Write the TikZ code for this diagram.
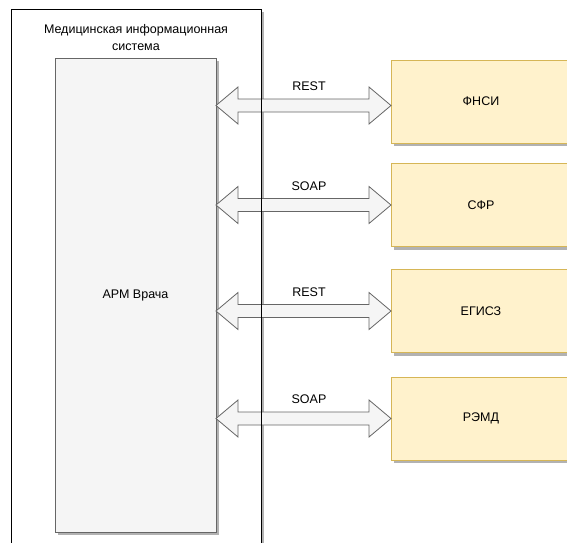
\documentclass[tikz,border=0pt]{standalone}
\usepackage{fontspec}
\setmainfont{Liberation Sans}
\usetikzlibrary{calc,shadows}
\definecolor{yfill}{HTML}{FFF2CC}
\definecolor{ydraw}{HTML}{D6B656}
\definecolor{gfill}{HTML}{F5F5F5}
\definecolor{gdraw}{HTML}{666666}
\begin{document}
\begin{tikzpicture}[x=1pt,y=-1pt,font=\fontsize{12.5}{16.5}\selectfont,
  shad/.style={drop shadow={shadow xshift=3pt,shadow yshift=-3pt,fill=black,opacity=0.3}},
  outerbox/.style={draw=black,fill=white,line width=1pt,inner sep=0pt,outer sep=0pt,minimum width=250pt,minimum height=591pt,shad},
  armbox/.style={draw=gdraw,fill=gfill,line width=1pt,inner sep=0pt,outer sep=0pt,minimum width=161pt,minimum height=474pt,shad},
  ybox/.style={draw=ydraw,fill=yfill,line width=1pt,inner sep=0pt,outer sep=0pt,minimum width=180pt,minimum height=83pt,shad},
  arr/.style={draw=gdraw,fill=gfill,line width=0.8pt,line join=miter},
  lbl/.style={inner sep=1pt}]
\useasboundingbox (0,0) rectangle (567,542);
\clip (0,0) rectangle (567,542);
\newcommand{\dblarr}[1]{\path[arr] (#1) -- ++(22,-18.5) -- ++(0,12) -- ++(131,0) -- ++(0,-12) -- ++(22,18.5) -- ++(-22,18.5) -- ++(0,-12) -- ++(-131,0) -- ++(0,12) -- cycle;}
\node[outerbox] (mis) at (136,304.5) {};
\node[align=center,anchor=north,inner sep=0pt] (mistitle) at (136,24.5) {Медицинская информационная\\система};
\node[armbox] (arm) at (135.5,295) {АРМ Врача};
\node[ybox] (f1) at (481,101.5) {ФНСИ};
\node[ybox] (f2) at (481,205) {СФР};
\node[ybox] (f3) at (481,311) {ЕГИСЗ};
\node[ybox] (f4) at (481,418.5) {РЭМД};
\coordinate (a1) at ($(arm.east |- f1.west)+(0,4)$);
\coordinate (a2) at (arm.east |- f2.west);
\coordinate (a3) at (arm.east |- f3.west);
\coordinate (a4) at (arm.east |- f4.west);
\dblarr{a1}
\dblarr{a2}
\dblarr{a3}
\dblarr{a4}
\draw[line width=1pt] (mis.north west) rectangle (mis.south east);
\node[lbl] (l1) at ($(a1)+(93,-19)$) {REST};
\node[lbl] (l2) at ($(a2)+(93,-19)$) {SOAP};
\node[lbl] (l3) at ($(a3)+(93,-19)$) {REST};
\node[lbl] (l4) at ($(a4)+(93,-19)$) {SOAP};
\end{tikzpicture}
\end{document}
